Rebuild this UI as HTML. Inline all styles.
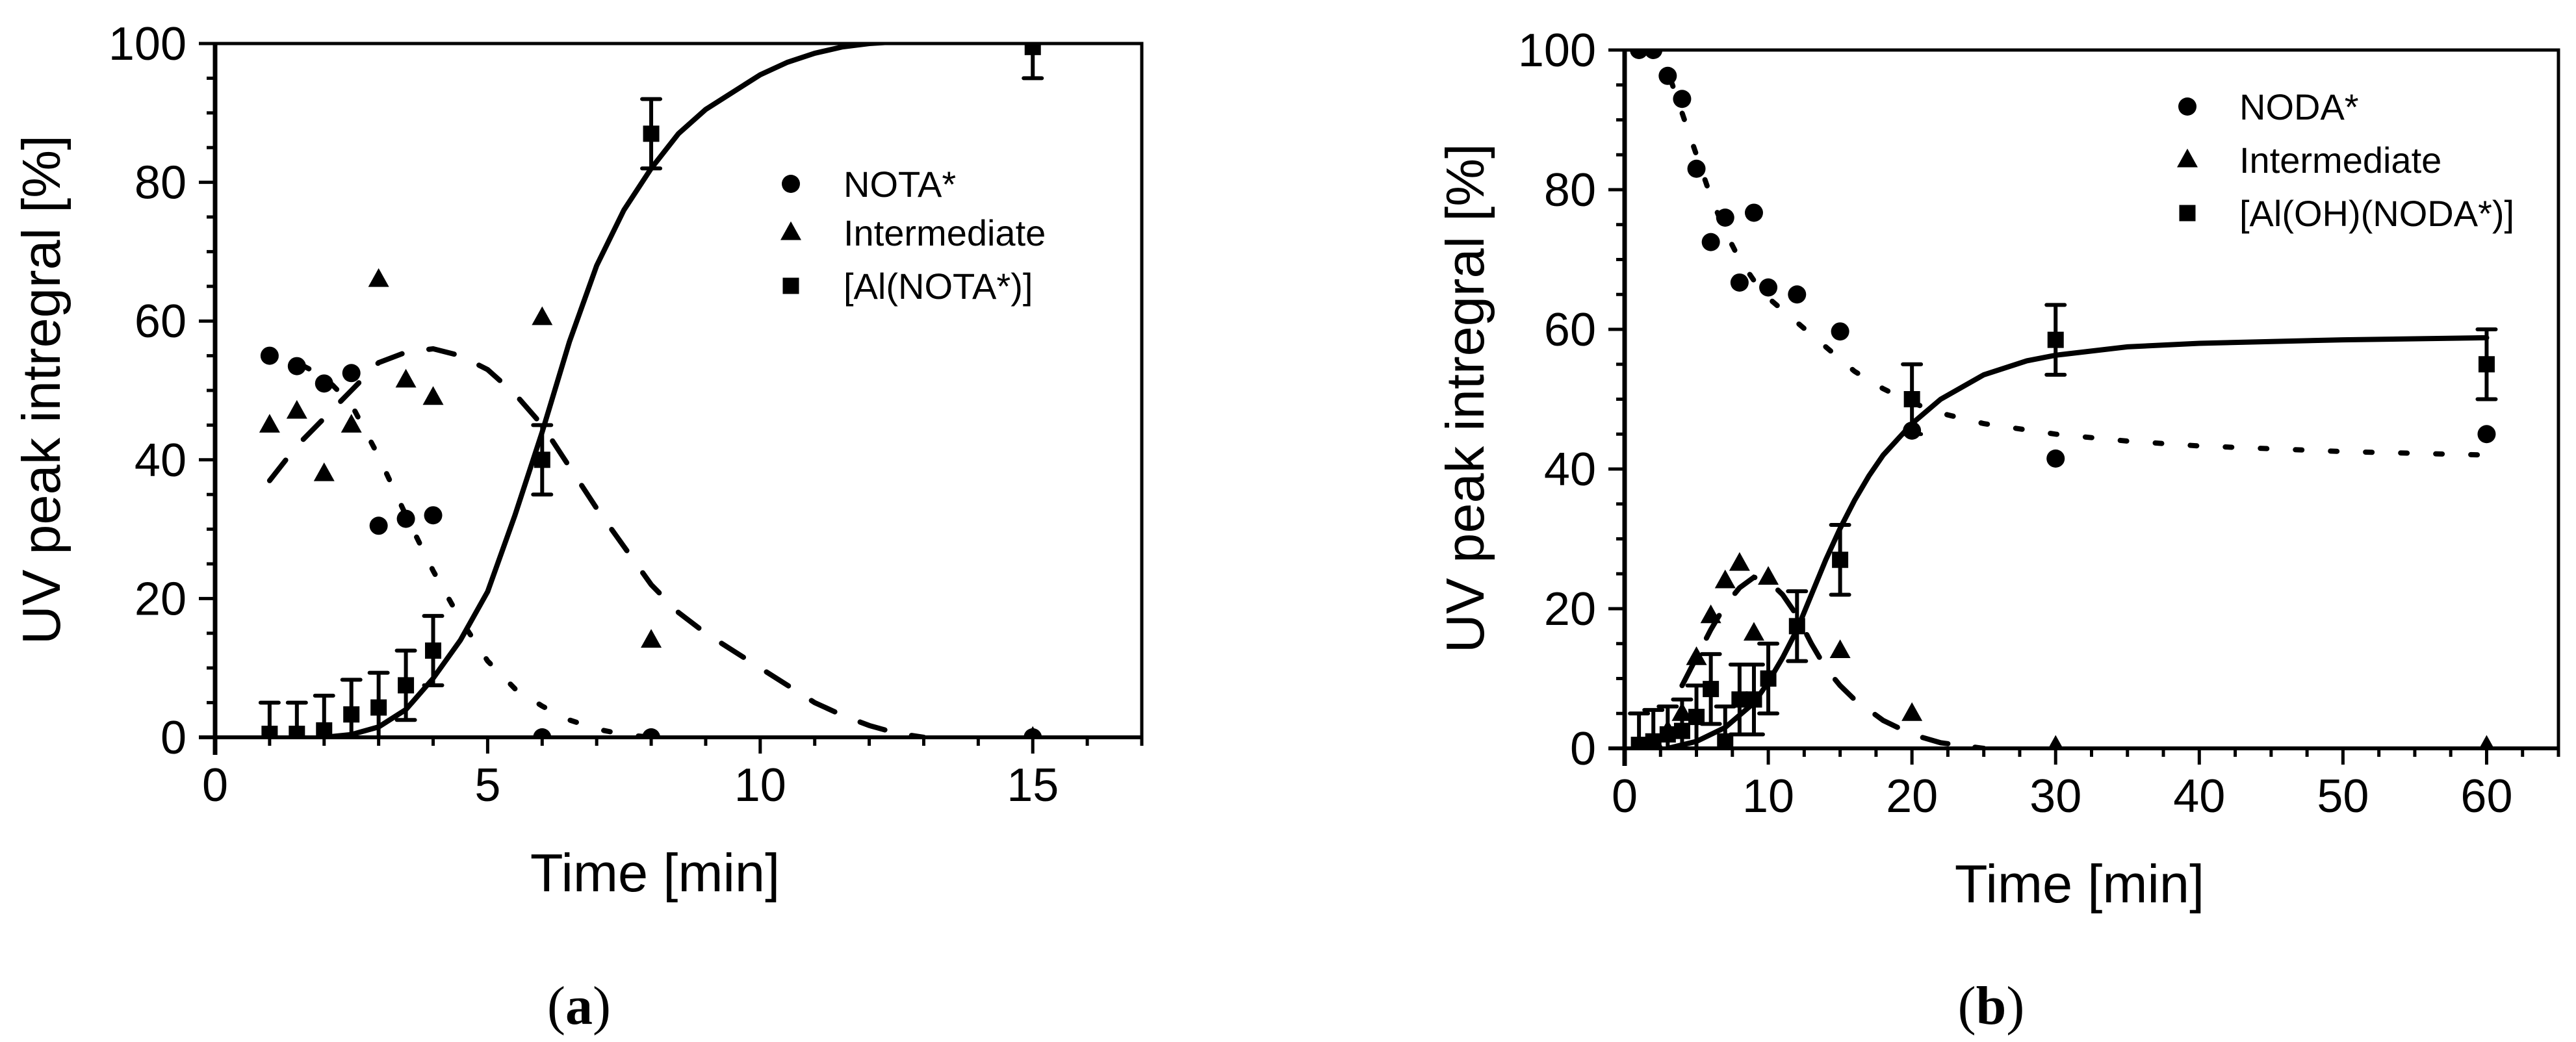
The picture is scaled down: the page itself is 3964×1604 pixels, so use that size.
<!DOCTYPE html>
<html><head><meta charset="utf-8"><style>
html,body{margin:0;padding:0;background:#fff;}
svg{display:block;font-family:"Liberation Sans",Arial,sans-serif;}
</style></head><body>
<svg id="fig" width="3964" height="1604" viewBox="0 0 3964 1604" xmlns="http://www.w3.org/2000/svg">
<defs>
<clipPath id="clipA"><rect x="331" y="67" width="1426" height="1068"/></clipPath>
<clipPath id="clipB"><rect x="2500" y="77" width="1437" height="1075"/></clipPath>
</defs>
<g id="panelA"></g>
<g id="panelB"></g>
</svg>
<script>
// ---------- Panel A data ----------
const aNotaX = [1,1.5,2,2.5,3,3.5,4,6,8,15];
const aNotaY = [55,53.5,51,52.5,30.5,31.5,32,0,0,0];
const aIntX = [1,1.5,2,2.5,3,3.5,4,6,8,15];
const aIntY = [45,47,38,45,66,51.5,49,60.5,14,0];
const aAlX = [1,1.5,2,2.5,3,3.5,4,6,8,15];
const aAlY = [0.5,0.5,1,3.3,4.3,7.5,12.5,40,87,99.5];
const aAlErr = [4.5,4.5,5,5,5,5,5,5,5,4.5];
const aFitAlX = [2,2.5,3,3.5,4,4.5,5,5.5,6,6.5,7,7.5,8,8.5,9,9.5,10,10.5,11,11.5,12,13];
const aFitAlY = [0,0.4,1.5,4,8.5,14,21,32,44,57,68,76,82,87,90.5,93,95.5,97.3,98.6,99.5,100,100.5];
const aFitIntX = [1,1.5,2,2.5,3,3.5,4,4.5,5,5.5,6,6.5,7,7.5,8,8.5,9,9.5,10,10.5,11,11.5,12,12.5,13];
const aFitIntY = [37,42,46,50,54,55.5,56,55,53,49.5,45,39,33,27.5,22,18,15,12.5,10,7.5,5,3.2,1.7,0.6,0];
const aFitNotaX = [1,1.5,2,2.5,3,3.5,4,4.5,5,5.5,6,6.5,7,7.5,8];
const aFitNotaY = [55,54,52,48,40.5,32,24,17,11,7,4.5,2.5,1.2,0.4,0];
const aXTicks = [0,5,10,15];
const aYTicks = [0,20,40,60,80,100];
const aLegend = ["NOTA*","Intermediate","[Al(NOTA*)]"];

// ---------- Panel B data ----------
const bNodaX = [1,2,3,4,5,6,7,8,9,10,12,15,20,30,60];
const bNodaY = [100,100,96.3,93,83,72.5,76,66.7,76.7,66,65,59.7,45.5,41.5,45];
const bIntX = [2,3,4,5,6,7,8,9,10,15,20,30,60];
const bIntY = [1,2.5,5,13,19,24,26.5,16.5,24.5,14,5,0.3,0.3];
const bAlX = [1,2,3,4,5,6,7,8,9,10,12,15,20,30,60];
const bAlY = [0.5,1,2,2.5,4.5,8.5,1,7,7,10,17.5,27,50,58.5,55];
const bAlErr = [4.5,4.5,4,4.5,4.5,5,5,5,5,5,5,5,5,5,5];
const bFitAlX = [3,5,7,9,10,11,12,13,14,15,16,17,18,20,22,25,28,30,35,40,50,60];
const bFitAlY = [0,1,3,6.5,9.5,13,17,22,27,31.5,35.5,39,42,46.5,50,53.5,55.5,56.3,57.5,58,58.5,58.8];
const bFitIntX = [4,5,6,7,8,9,10,11,12,13,14,15,16,18,20,22,25];
const bFitIntY = [9,13,17,20.5,23,24.5,24,22,19,15,11.5,9,7,4,2,0.8,0];
const bFitNodaX = [2,3,4,5,6,7,8,9,10,12,14,16,18,20,22,25,30,35,40,50,60];
const bFitNodaY = [100,97,91,85,79,74,70,67,64.5,61,57.5,54,51.5,49.5,48,46.5,45,44,43.3,42.5,42];
const bXTicks = [0,10,20,30,40,50,60];
const bYTicks = [0,20,40,60,80,100];
const bLegend = ["NODA*","Intermediate","[Al(OH)(NODA*)]"];

const NS = "http://www.w3.org/2000/svg";
function mk(parent, tag, attrs, text){
  const e = document.createElementNS(NS, tag);
  for (const k in attrs) e.setAttribute(k, attrs[k]);
  if (text !== undefined) e.textContent = text;
  parent.appendChild(e);
  return e;
}
function circle(g,x,y,r){const e=mk(g,'circle',{cx:x,cy:y,r:r,fill:'#000'});return e;}
function tri(g,x,y,s){const h=s*0.9;const e=mk(g,'polygon',{points:`${x},${y-h*0.6} ${x-s/2},${y+h*0.4} ${x+s/2},${y+h*0.4}`,fill:'#000'});return e;}
function sq(g,x,y,s){const e=mk(g,'rect',{x:x-s/2,y:y-s/2,width:s,height:s,fill:'#000'});return e;}

function drawPanel(g, cfg){
  const {L,R,T,B,xmax,xminorStep,clip} = cfg;
  const sx = v => L + v*(R-L)/xmax;
  const sy = v => B - v*(B-T)/100;
  const frame = mk(g,'path',{d:`M${L},${T} H${R} V${B}`,fill:'none',stroke:'#000','stroke-width':5});
  
  
  const yax = mk(g,'line',{x1:L,y1:T,x2:L,y2:B+27,stroke:'#000','stroke-width':7});
  
  
  const xax = mk(g,'line',{x1:L-25,y1:B,x2:R,y2:B,stroke:'#000','stroke-width':6});
  
  
  for(let v=0; v<=100; v+=5){
    const major = v%20===0;
    const t = mk(g,'line',{x1:major?L-25:L-13,y1:sy(v),x2:L,y2:sy(v),stroke:'#000','stroke-width':5});
    
    
  }
  cfg.yTicks.forEach(v=>{
    const t = mk(g,'text',{x:L-44,y:sy(v)+25,'font-size':72,'text-anchor':'end',fill:'#000'},String(v));
    
    
  });
  for(let v=0; v<=xmax+1e-9; v+=xminorStep){
    const major = cfg.xTicks.some(m=>Math.abs(m-v)<1e-6);
    const t = mk(g,'line',{x1:sx(v),y1:B,x2:sx(v),y2:B+(major?25:13),stroke:'#000','stroke-width':5});
    
    
  }
  cfg.xTicks.forEach(v=>{
    const t = mk(g,'text',{x:sx(v),y:B+98,'font-size':72,'text-anchor':'middle',fill:'#000'},String(v));
    
    
  });
  const xt = mk(g,'text',{x:cfg.xTitleX,y:cfg.xTitleY,'font-size':83,'text-anchor':'middle',fill:'#000'},'Time [min]');
  
  
  const yt = mk(g,'text',{x:0,y:0,'font-size':83,'text-anchor':'middle',fill:'#000',transform:`translate(${cfg.yTitleX},${cfg.yTitleY}) rotate(-90)`},'UV peak intregral [%]');
  
  
  const cap = mk(g,'text',{x:cfg.capX,y:1576,'font-size':84,'text-anchor':'middle',fill:'#000','font-family':'"Liberation Serif",serif'});
  
  
  mk(cap,'tspan',{},'(');
  mk(cap,'tspan',{'font-weight':'bold'},cfg.capLetter);
  mk(cap,'tspan',{},')');

  const pg = mk(g,'g',{'clip-path':`url(#${clip})`});
  
  
  function curve(xs,ys,dash,name){
    const d = xs.map((x,i)=>(i?'L':'M')+sx(x).toFixed(1)+','+sy(ys[i]).toFixed(1)).join(' ');
    const p = mk(pg,'path',{d:d,fill:'none',stroke:'#000','stroke-width':8,'stroke-linecap':'round','stroke-dasharray':dash||'none'});
    
    
  }
  curve(cfg.fitAl[0],cfg.fitAl[1],null,'fit-complex-solid');
  curve(cfg.fitInt[0],cfg.fitInt[1],'40 42','fit-intermediate-dashed');
  curve(cfg.fitLig[0],cfg.fitLig[1],'10 44','fit-ligand-dotted');
  cfg.ligX.forEach((x,i)=>{
    const e = circle(pg,sx(x),sy(cfg.ligY[i]),14);
    
    
  });
  cfg.intX.forEach((x,i)=>{
    const e = tri(pg,sx(x),sy(cfg.intY[i]),32);
    
    
  });
  cfg.alX.forEach((x,i)=>{
    const X=sx(x), y=cfg.alY[i], er=cfg.alErr[i];
    const eb = mk(pg,'path',{d:`M${X},${sy(y-er)} V${sy(y+er)} M${X-14},${sy(y-er)} H${X+14} M${X-14},${sy(y+er)} H${X+14}`,stroke:'#000','stroke-width':6,fill:'none','stroke-linecap':'round'});
    
    
    const e = sq(pg,X,sy(y),25);
    
    
  });
  const lg = mk(g,'g',{});
  
  
  cfg.legend.forEach((lab,i)=>{
    const y = cfg.legY[i];
    let m;
    if(i===0) m = circle(lg,cfg.legMX,y,14);
    else if(i===1) m = tri(lg,cfg.legMX,y,32);
    else m = sq(lg,cfg.legMX,y,25);
    
    
    const t = mk(lg,'text',{x:cfg.legTX,y:y+20,'font-size':56,fill:'#000'},lab);
    
    
  });
}

drawPanel(document.getElementById('panelA'),{
  L:331,R:1757,T:67,B:1135,xmax:17,xminorStep:1,clip:'clipA',
  xTicks:aXTicks,yTicks:aYTicks,
  xTitleX:1008,xTitleY:1372,yTitleX:92,yTitleY:600,capX:891,capLetter:'a',
  fitAl:[aFitAlX,aFitAlY],fitInt:[aFitIntX,aFitIntY],fitLig:[aFitNotaX,aFitNotaY],
  ligX:aNotaX,ligY:aNotaY,intX:aIntX,intY:aIntY,alX:aAlX,alY:aAlY,alErr:aAlErr,
  legend:aLegend,legY:[283,358,440],legMX:1217,legTX:1298
});
drawPanel(document.getElementById('panelB'),{
  L:2500,R:3937,T:77,B:1152,xmax:65,xminorStep:2.5,clip:'clipB',
  xTicks:bXTicks,yTicks:bYTicks,
  xTitleX:3200,xTitleY:1389,yTitleX:2283,yTitleY:613,capX:3064,capLetter:'b',
  fitAl:[bFitAlX,bFitAlY],fitInt:[bFitIntX,bFitIntY],fitLig:[bFitNodaX,bFitNodaY],
  ligX:bNodaX,ligY:bNodaY,intX:bIntX,intY:bIntY,alX:bAlX,alY:bAlY,alErr:bAlErr,
  legend:bLegend,legY:[164,246,328],legMX:3366,legTX:3446
});
</script>
</body></html>
